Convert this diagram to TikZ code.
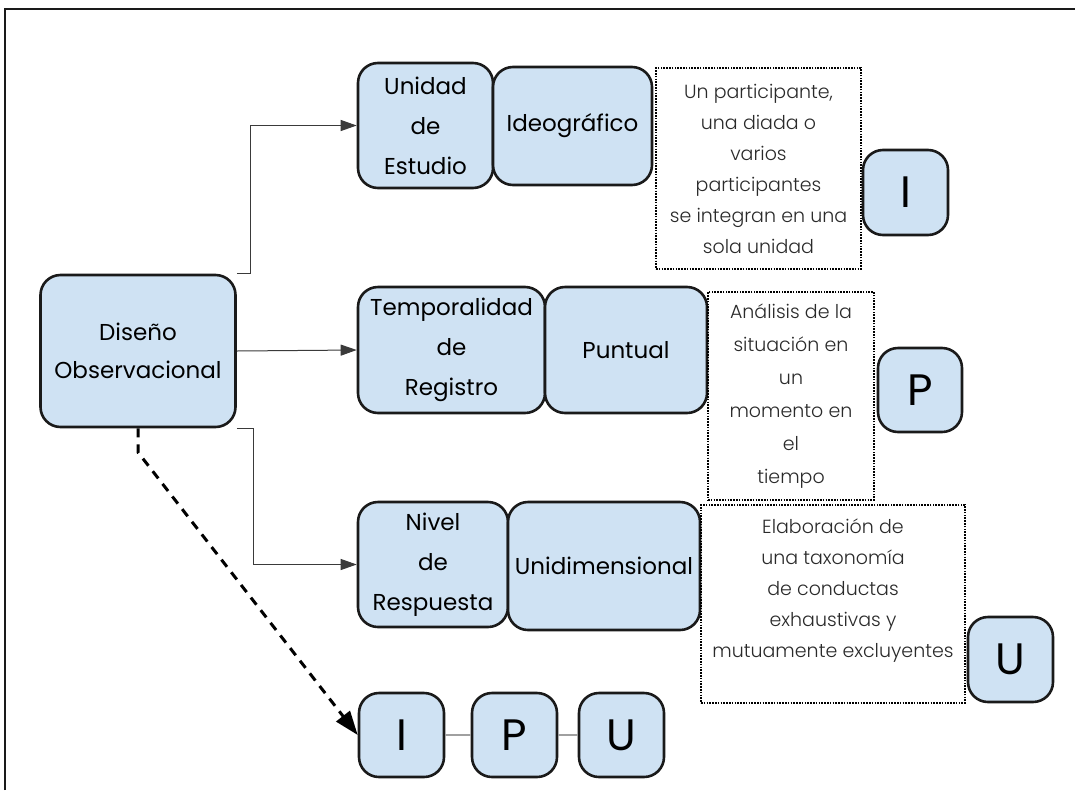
\documentclass[tikz,border=0pt]{standalone}
\usepackage{fontspec}
\setmainfont{Poppins}
\newfontfamily\lightfont{Poppins Light}
\usetikzlibrary{arrows.meta}
\definecolor{boxfill}{HTML}{CFE2F3}
\definecolor{boxline}{HTML}{1A1A1A}
\definecolor{conline}{HTML}{3A3A3A}
\definecolor{ipuline}{HTML}{A0A0A0}
\definecolor{notetext}{HTML}{2A2A2A}
\begin{document}
\begin{tikzpicture}[x=1pt,y=-1pt,
  bluebox/.style={draw=boxline, line width=2.6pt, fill=boxfill, rounded corners=20pt,
    inner sep=0pt, align=center, font=\fontsize{23}{40}\selectfont, text=black},
  letterbox/.style={bluebox, minimum width=85pt, minimum height=85pt,
    font=\fontsize{44}{44}\selectfont},
  notebox/.style={draw=black, line width=1.8pt, dash pattern=on 1.6pt off 1.2pt,
    inner sep=0pt, align=center, font=\lightfont\fontsize{19}{31}\selectfont, text=notetext},
  conn/.style={draw=conline, line width=1pt, -{Triangle[length=16pt,width=11pt]}},
  dashconn/.style={draw=black, line width=3pt, dash pattern=on 9pt off 7pt,
    -{Triangle[length=24pt,width=17pt]}},
  ipulink/.style={draw=ipuline, line width=1.2pt},
  frameline/.style={draw=boxline, line width=2pt}
]
\useasboundingbox (0,0) rectangle (1075,790);
\draw[frameline] (5,790) -- (5,9) -- (1075,9);

% main node
\node[bluebox, minimum width=195pt, minimum height=152pt,
  font=\fontsize{23}{38}\selectfont] (dis) at (138,351) {Diseño\\Observacional};

% row 1
\node[bluebox, minimum width=135pt, minimum height=125pt] (ue) at (425.5,125.5) {Unidad\\de\\Estudio};
\node[bluebox, minimum width=159pt, minimum height=118pt] (ideo) at (572.5,126) {Ideográfico};
\node[notebox, minimum width=205pt, minimum height=201pt] (n1) at (758.5,168.5)
  {Un participante,\\una diada o\\varios\\participantes\\se integran en una\\sola unidad};
\node[letterbox] (iA) at (905.5,192.5) {I};

% row 2
\node[bluebox, minimum width=187pt, minimum height=126pt] (tr) at (451.5,350) {Temporalidad\\de\\Registro};
\node[bluebox, minimum width=162pt, minimum height=126pt] (pun) at (626,350) {Puntual};
\node[notebox, minimum width=166pt, minimum height=208pt,
  font=\lightfont\fontsize{19}{33}\selectfont] (n2) at (791,396)
  {Análisis de la\\situación en\\un\\momento en\\el\\tiempo\hspace{70pt}};
\node[letterbox, minimum height=84pt, minimum width=84pt] (pB) at (920,390) {P};

% row 3
\node[bluebox, minimum width=150pt, minimum height=125pt] (nr) at (433,564.5) {Nivel\\de\\Respuesta};
\node[bluebox, minimum width=192pt, minimum height=128pt] (uni) at (604,566) {Unidimensional};
\node[notebox, minimum width=264pt, minimum height=198pt] (n3) at (833,604)
  {Elaboración de\\una taxonomía\\de conductas\\exhaustivas y\\mutuamente excluyentes\\\mbox{}};
\node[letterbox] (uC) at (1010.5,659.5) {U};

% bottom row
\node[letterbox, minimum height=84pt] (i2) at (401.5,735) {I};
\node[letterbox, minimum height=84pt] (p2) at (514.5,735) {P};
\node[letterbox, minimum height=84pt] (u2) at (621.5,735) {U};

% connectors
\draw[conn] (dis.north east) -- ++(14,0) |- (ue.west);
\draw[conn] (dis.east) -- (tr.west);
\draw[conn] (dis.south east) -- ++(17,0) |- (nr.west);
\draw[dashconn] (dis.south) -- ++(0,24) -- (i2.west);
\draw[ipulink] (i2.east) -- (p2.west);
\draw[ipulink] (p2.east) -- (u2.west);
\end{tikzpicture}
\end{document}
